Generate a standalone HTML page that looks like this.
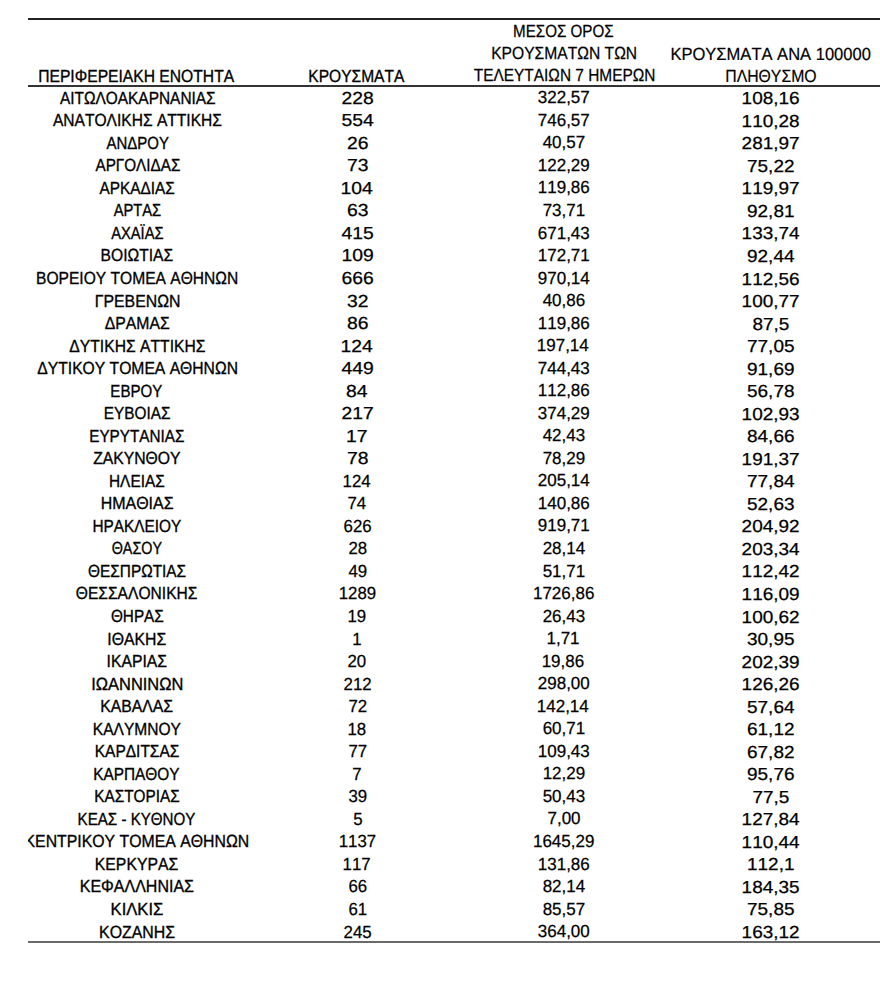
<!DOCTYPE html>
<html><head><meta charset="utf-8"><title>table</title><style>
html,body{margin:0;padding:0;background:#fff;}
body{font-family:"Liberation Sans",sans-serif;color:#000;text-rendering:geometricPrecision;font-kerning:none;}
.t{position:absolute;white-space:nowrap;line-height:22px;height:22px;width:0;display:flex;justify-content:center;}
.t span{display:block;flex:none;transform-origin:50% 50%;}
.b{font-size:17.6px} .b span{-webkit-text-stroke:0.35px #000}
.c{font-size:17.5px} .c span{-webkit-text-stroke:0.25px #000}
.d{font-size:17.4px} .d span{-webkit-text-stroke:0.25px #000}
.e{font-size:17.6px} .e span{-webkit-text-stroke:0.2px #000}
.f{font-size:17.6px} .f span{-webkit-text-stroke:0.25px #000}


body{width:880px;height:997px;position:relative;overflow:hidden;}
.clip{position:absolute;left:28px;top:0;width:852px;height:997px;overflow:hidden;}
.ln{position:absolute;left:0;width:852px;}
</style></head>
<body><div class="clip">
<div class="ln" style="top:18.1px;height:2.2px;background:#222"></div>
<div class="ln" style="top:84.7px;height:1.9px;background:#333"></div>
<div class="ln" style="top:940.7px;height:2.2px;background:#6a6a6a"></div>
<div class="t b" style="left:108.57px;top:65px"><span style="transform:scaleX(0.8894)">ΠΕΡΙΦΕΡΕΙΑΚΗ ΕΝΟΤΗΤΑ</span></div>
<div class="t b" style="left:328.70px;top:65px"><span style="transform:scaleX(0.8837)">ΚΡΟΥΣΜΑΤΑ</span></div>
<div class="t f" style="left:535.46px;top:20px"><span style="transform:scaleX(0.8627)">ΜΕΣΟΣ ΟΡΟΣ</span></div>
<div class="t f" style="left:535.71px;top:42px"><span style="transform:scaleX(0.8887)">ΚΡΟΥΣΜΑΤΩΝ ΤΩΝ</span></div>
<div class="t f" style="left:536.11px;top:64px"><span style="transform:scaleX(0.8773)">ΤΕΛΕΥΤΑΙΩΝ 7 ΗΜΕΡΩΝ</span></div>
<div class="t e" style="left:742.58px;top:43px"><span style="transform:scaleX(0.9397)">ΚΡΟΥΣΜΑΤΑ ΑΝΑ 100000</span></div>
<div class="t e" style="left:742.70px;top:65px"><span style="transform:scaleX(0.8972)">ΠΛΗΘΥΣΜΟ</span></div>
<div class="t b" style="left:109.55px;top:87px"><span style="transform:scaleX(0.8773)">ΑΙΤΩΛΟΑΚΑΡΝΑΝΙΑΣ</span></div>
<div class="t d" style="left:329.31px;top:87px"><span style="transform:scaleX(1.1109)">228</span></div>
<div class="t c" style="left:535.84px;top:86px"><span style="transform:scaleX(0.9703)">322,57</span></div>
<div class="t d" style="left:742.60px;top:87px"><span style="transform:scaleX(1.0906)">108,16</span></div>
<div class="t b" style="left:109.59px;top:109px"><span style="transform:scaleX(0.8858)">ΑΝΑΤΟΛΙΚΗΣ ΑΤΤΙΚΗΣ</span></div>
<div class="t d" style="left:329.31px;top:109px"><span style="transform:scaleX(1.1109)">554</span></div>
<div class="t c" style="left:535.72px;top:109px"><span style="transform:scaleX(0.9703)">746,57</span></div>
<div class="t d" style="left:742.60px;top:110px"><span style="transform:scaleX(1.0906)">110,28</span></div>
<div class="t b" style="left:109.35px;top:132px"><span style="transform:scaleX(0.8503)">ΑΝΔΡΟΥ</span></div>
<div class="t d" style="left:329.21px;top:132px"><span style="transform:scaleX(1.1109)">26</span></div>
<div class="t c" style="left:535.97px;top:131px"><span style="transform:scaleX(0.9703)">40,57</span></div>
<div class="t d" style="left:742.87px;top:132px"><span style="transform:scaleX(1.0906)">281,97</span></div>
<div class="t b" style="left:109.57px;top:154px"><span style="transform:scaleX(0.8667)">ΑΡΓΟΛΙΔΑΣ</span></div>
<div class="t d" style="left:329.21px;top:154px"><span style="transform:scaleX(1.1109)">73</span></div>
<div class="t c" style="left:535.47px;top:154px"><span style="transform:scaleX(0.9703)">122,29</span></div>
<div class="t d" style="left:742.92px;top:155px"><span style="transform:scaleX(1.0906)">75,22</span></div>
<div class="t b" style="left:109.51px;top:177px"><span style="transform:scaleX(0.8721)">ΑΡΚΑΔΙΑΣ</span></div>
<div class="t d" style="left:328.89px;top:177px"><span style="transform:scaleX(1.1109)">104</span></div>
<div class="t c" style="left:535.35px;top:176px"><span style="transform:scaleX(0.9703)">119,86</span></div>
<div class="t d" style="left:742.60px;top:177px"><span style="transform:scaleX(1.0906)">119,97</span></div>
<div class="t b" style="left:109.55px;top:199px"><span style="transform:scaleX(0.8363)">ΑΡΤΑΣ</span></div>
<div class="t d" style="left:329.21px;top:199px"><span style="transform:scaleX(1.1109)">63</span></div>
<div class="t c" style="left:535.72px;top:199px"><span style="transform:scaleX(0.9703)">73,71</span></div>
<div class="t d" style="left:742.92px;top:200px"><span style="transform:scaleX(1.0906)">92,81</span></div>
<div class="t b" style="left:109.50px;top:222px"><span style="transform:scaleX(0.8360)">ΑΧΑΪΑΣ</span></div>
<div class="t d" style="left:329.59px;top:222px"><span style="transform:scaleX(1.1109)">415</span></div>
<div class="t c" style="left:535.59px;top:222px"><span style="transform:scaleX(0.9703)">671,43</span></div>
<div class="t d" style="left:742.47px;top:222px"><span style="transform:scaleX(1.0906)">133,74</span></div>
<div class="t b" style="left:108.85px;top:244px"><span style="transform:scaleX(0.8875)">ΒΟΙΩΤΙΑΣ</span></div>
<div class="t d" style="left:329.03px;top:244px"><span style="transform:scaleX(1.1109)">109</span></div>
<div class="t c" style="left:535.47px;top:244px"><span style="transform:scaleX(0.9703)">172,71</span></div>
<div class="t d" style="left:742.64px;top:245px"><span style="transform:scaleX(1.0906)">92,44</span></div>
<div class="t b" style="left:109.19px;top:267px"><span style="transform:scaleX(0.8859)">ΒΟΡΕΙΟΥ ΤΟΜΕΑ ΑΘΗΝΩΝ</span></div>
<div class="t d" style="left:329.31px;top:267px"><span style="transform:scaleX(1.1109)">666</span></div>
<div class="t c" style="left:535.47px;top:267px"><span style="transform:scaleX(0.9703)">970,14</span></div>
<div class="t d" style="left:742.60px;top:268px"><span style="transform:scaleX(1.0906)">112,56</span></div>
<div class="t b" style="left:109.18px;top:290px"><span style="transform:scaleX(0.9003)">ΓΡΕΒΕΝΩΝ</span></div>
<div class="t d" style="left:329.49px;top:290px"><span style="transform:scaleX(1.1109)">32</span></div>
<div class="t c" style="left:535.84px;top:289px"><span style="transform:scaleX(0.9703)">40,86</span></div>
<div class="t d" style="left:742.60px;top:290px"><span style="transform:scaleX(1.0906)">100,77</span></div>
<div class="t b" style="left:109.31px;top:312px"><span style="transform:scaleX(0.8955)">ΔΡΑΜΑΣ</span></div>
<div class="t d" style="left:329.21px;top:312px"><span style="transform:scaleX(1.1109)">86</span></div>
<div class="t c" style="left:535.35px;top:312px"><span style="transform:scaleX(0.9703)">119,86</span></div>
<div class="t d" style="left:742.82px;top:313px"><span style="transform:scaleX(1.0906)">87,5</span></div>
<div class="t b" style="left:109.32px;top:335px"><span style="transform:scaleX(0.8914)">ΔΥΤΙΚΗΣ ΑΤΤΙΚΗΣ</span></div>
<div class="t d" style="left:328.89px;top:335px"><span style="transform:scaleX(1.1109)">124</span></div>
<div class="t c" style="left:535.23px;top:334px"><span style="transform:scaleX(0.9703)">197,14</span></div>
<div class="t d" style="left:742.78px;top:335px"><span style="transform:scaleX(1.0906)">77,05</span></div>
<div class="t b" style="left:109.67px;top:357px"><span style="transform:scaleX(0.8905)">ΔΥΤΙΚΟΥ ΤΟΜΕΑ ΑΘΗΝΩΝ</span></div>
<div class="t d" style="left:329.59px;top:357px"><span style="transform:scaleX(1.1109)">449</span></div>
<div class="t c" style="left:535.59px;top:357px"><span style="transform:scaleX(0.9703)">744,43</span></div>
<div class="t d" style="left:742.92px;top:358px"><span style="transform:scaleX(1.0906)">91,69</span></div>
<div class="t b" style="left:108.72px;top:380px"><span style="transform:scaleX(0.8565)">ΕΒΡΟΥ</span></div>
<div class="t d" style="left:329.07px;top:380px"><span style="transform:scaleX(1.1109)">84</span></div>
<div class="t c" style="left:535.35px;top:379px"><span style="transform:scaleX(0.9703)">112,86</span></div>
<div class="t d" style="left:742.92px;top:380px"><span style="transform:scaleX(1.0906)">56,78</span></div>
<div class="t b" style="left:108.93px;top:402px"><span style="transform:scaleX(0.8725)">ΕΥΒΟΙΑΣ</span></div>
<div class="t d" style="left:329.31px;top:402px"><span style="transform:scaleX(1.1109)">217</span></div>
<div class="t c" style="left:535.84px;top:402px"><span style="transform:scaleX(0.9703)">374,29</span></div>
<div class="t d" style="left:742.60px;top:403px"><span style="transform:scaleX(1.0906)">102,93</span></div>
<div class="t b" style="left:108.94px;top:425px"><span style="transform:scaleX(0.8677)">ΕΥΡΥΤΑΝΙΑΣ</span></div>
<div class="t d" style="left:329.07px;top:425px"><span style="transform:scaleX(1.1109)">17</span></div>
<div class="t c" style="left:535.84px;top:424px"><span style="transform:scaleX(0.9703)">42,43</span></div>
<div class="t d" style="left:742.78px;top:425px"><span style="transform:scaleX(1.0906)">84,66</span></div>
<div class="t b" style="left:109.10px;top:447px"><span style="transform:scaleX(0.8943)">ΖΑΚΥΝΘΟΥ</span></div>
<div class="t d" style="left:329.21px;top:447px"><span style="transform:scaleX(1.1109)">78</span></div>
<div class="t c" style="left:535.72px;top:447px"><span style="transform:scaleX(0.9703)">78,29</span></div>
<div class="t d" style="left:742.60px;top:448px"><span style="transform:scaleX(1.0906)">191,37</span></div>
<div class="t b" style="left:108.85px;top:470px"><span style="transform:scaleX(0.8750)">ΗΛΕΙΑΣ</span></div>
<div class="t c" style="left:328.92px;top:470px"><span style="transform:scaleX(0.9607)">124</span></div>
<div class="t c" style="left:535.47px;top:469px"><span style="transform:scaleX(0.9703)">205,14</span></div>
<div class="t d" style="left:742.64px;top:470px"><span style="transform:scaleX(1.0906)">77,84</span></div>
<div class="t b" style="left:108.87px;top:492px"><span style="transform:scaleX(0.9076)">ΗΜΑΘΙΑΣ</span></div>
<div class="t c" style="left:329.16px;top:492px"><span style="transform:scaleX(0.9607)">74</span></div>
<div class="t c" style="left:535.35px;top:492px"><span style="transform:scaleX(0.9703)">140,86</span></div>
<div class="t d" style="left:742.92px;top:493px"><span style="transform:scaleX(1.0906)">52,63</span></div>
<div class="t b" style="left:108.75px;top:515px"><span style="transform:scaleX(0.8728)">ΗΡΑΚΛΕΙΟΥ</span></div>
<div class="t c" style="left:329.28px;top:515px"><span style="transform:scaleX(0.9607)">626</span></div>
<div class="t c" style="left:535.72px;top:514px"><span style="transform:scaleX(0.9703)">919,71</span></div>
<div class="t d" style="left:742.87px;top:515px"><span style="transform:scaleX(1.0906)">204,92</span></div>
<div class="t b" style="left:108.98px;top:537px"><span style="transform:scaleX(0.8148)">ΘΑΣΟΥ</span></div>
<div class="t c" style="left:329.28px;top:537px"><span style="transform:scaleX(0.9607)">28</span></div>
<div class="t c" style="left:535.48px;top:537px"><span style="transform:scaleX(0.9703)">28,14</span></div>
<div class="t d" style="left:742.74px;top:538px"><span style="transform:scaleX(1.0906)">203,34</span></div>
<div class="t b" style="left:109.15px;top:560px"><span style="transform:scaleX(0.8736)">ΘΕΣΠΡΩΤΙΑΣ</span></div>
<div class="t c" style="left:329.53px;top:560px"><span style="transform:scaleX(0.9607)">49</span></div>
<div class="t c" style="left:535.84px;top:560px"><span style="transform:scaleX(0.9703)">51,71</span></div>
<div class="t d" style="left:742.60px;top:560px"><span style="transform:scaleX(1.0906)">112,42</span></div>
<div class="t b" style="left:109.10px;top:582px"><span style="transform:scaleX(0.8860)">ΘΕΣΣΑΛΟΝΙΚΗΣ</span></div>
<div class="t c" style="left:329.03px;top:582px"><span style="transform:scaleX(0.9607)">1289</span></div>
<div class="t c" style="left:535.47px;top:582px"><span style="transform:scaleX(0.9703)">1726,86</span></div>
<div class="t d" style="left:742.60px;top:583px"><span style="transform:scaleX(1.0906)">116,09</span></div>
<div class="t b" style="left:109.09px;top:605px"><span style="transform:scaleX(0.8697)">ΘΗΡΑΣ</span></div>
<div class="t c" style="left:329.04px;top:605px"><span style="transform:scaleX(0.9607)">19</span></div>
<div class="t c" style="left:535.60px;top:605px"><span style="transform:scaleX(0.9703)">26,43</span></div>
<div class="t d" style="left:742.60px;top:606px"><span style="transform:scaleX(1.0906)">100,62</span></div>
<div class="t b" style="left:108.81px;top:628px"><span style="transform:scaleX(0.8976)">ΙΘΑΚΗΣ</span></div>
<div class="t c" style="left:329.05px;top:628px"><span style="transform:scaleX(0.9607)">1</span></div>
<div class="t c" style="left:535.49px;top:627px"><span style="transform:scaleX(0.9703)">1,71</span></div>
<div class="t d" style="left:742.92px;top:628px"><span style="transform:scaleX(1.0906)">30,95</span></div>
<div class="t b" style="left:108.80px;top:650px"><span style="transform:scaleX(0.8931)">ΙΚΑΡΙΑΣ</span></div>
<div class="t c" style="left:329.16px;top:650px"><span style="transform:scaleX(0.9607)">20</span></div>
<div class="t c" style="left:535.36px;top:650px"><span style="transform:scaleX(0.9703)">19,86</span></div>
<div class="t d" style="left:742.87px;top:651px"><span style="transform:scaleX(1.0906)">202,39</span></div>
<div class="t b" style="left:109.03px;top:673px"><span style="transform:scaleX(0.9349)">ΙΩΑΝΝΙΝΩΝ</span></div>
<div class="t c" style="left:329.28px;top:673px"><span style="transform:scaleX(0.9607)">212</span></div>
<div class="t c" style="left:535.59px;top:672px"><span style="transform:scaleX(0.9703)">298,00</span></div>
<div class="t d" style="left:742.60px;top:673px"><span style="transform:scaleX(1.0906)">126,26</span></div>
<div class="t b" style="left:108.89px;top:695px"><span style="transform:scaleX(0.8962)">ΚΑΒΑΛΑΣ</span></div>
<div class="t c" style="left:329.28px;top:695px"><span style="transform:scaleX(0.9607)">72</span></div>
<div class="t c" style="left:535.23px;top:695px"><span style="transform:scaleX(0.9703)">142,14</span></div>
<div class="t d" style="left:742.78px;top:696px"><span style="transform:scaleX(1.0906)">57,64</span></div>
<div class="t b" style="left:108.76px;top:718px"><span style="transform:scaleX(0.8830)">ΚΑΛΥΜΝΟΥ</span></div>
<div class="t c" style="left:329.04px;top:718px"><span style="transform:scaleX(0.9607)">18</span></div>
<div class="t c" style="left:535.72px;top:717px"><span style="transform:scaleX(0.9703)">60,71</span></div>
<div class="t d" style="left:742.92px;top:718px"><span style="transform:scaleX(1.0906)">61,12</span></div>
<div class="t b" style="left:108.91px;top:740px"><span style="transform:scaleX(0.8806)">ΚΑΡΔΙΤΣΑΣ</span></div>
<div class="t c" style="left:329.28px;top:740px"><span style="transform:scaleX(0.9607)">77</span></div>
<div class="t c" style="left:535.35px;top:740px"><span style="transform:scaleX(0.9703)">109,43</span></div>
<div class="t d" style="left:742.92px;top:741px"><span style="transform:scaleX(1.0906)">67,82</span></div>
<div class="t b" style="left:108.77px;top:763px"><span style="transform:scaleX(0.8740)">ΚΑΡΠΑΘΟΥ</span></div>
<div class="t c" style="left:329.29px;top:763px"><span style="transform:scaleX(0.9607)">7</span></div>
<div class="t c" style="left:535.48px;top:762px"><span style="transform:scaleX(0.9703)">12,29</span></div>
<div class="t d" style="left:742.78px;top:763px"><span style="transform:scaleX(1.0906)">95,76</span></div>
<div class="t b" style="left:108.88px;top:785px"><span style="transform:scaleX(0.8701)">ΚΑΣΤΟΡΙΑΣ</span></div>
<div class="t c" style="left:329.41px;top:785px"><span style="transform:scaleX(0.9607)">39</span></div>
<div class="t c" style="left:535.72px;top:785px"><span style="transform:scaleX(0.9703)">50,43</span></div>
<div class="t d" style="left:742.82px;top:786px"><span style="transform:scaleX(1.0906)">77,5</span></div>
<div class="t b" style="left:108.77px;top:808px"><span style="transform:scaleX(0.8598)">ΚΕΑΣ - ΚΥΘΝΟΥ</span></div>
<div class="t c" style="left:329.41px;top:808px"><span style="transform:scaleX(0.9607)">5</span></div>
<div class="t c" style="left:535.61px;top:807px"><span style="transform:scaleX(0.9703)">7,00</span></div>
<div class="t d" style="left:742.47px;top:808px"><span style="transform:scaleX(1.0906)">127,84</span></div>
<div class="t b" style="left:108.59px;top:830px"><span style="transform:scaleX(0.8995)">ΚΕΝΤΡΙΚΟΥ ΤΟΜΕΑ ΑΘΗΝΩΝ</span></div>
<div class="t c" style="left:329.03px;top:830px"><span style="transform:scaleX(0.9607)">1137</span></div>
<div class="t c" style="left:535.47px;top:830px"><span style="transform:scaleX(0.9703)">1645,29</span></div>
<div class="t d" style="left:742.47px;top:831px"><span style="transform:scaleX(1.0906)">110,44</span></div>
<div class="t b" style="left:108.88px;top:853px"><span style="transform:scaleX(0.8959)">ΚΕΡΚΥΡΑΣ</span></div>
<div class="t c" style="left:329.04px;top:853px"><span style="transform:scaleX(0.9607)">117</span></div>
<div class="t c" style="left:535.35px;top:853px"><span style="transform:scaleX(0.9703)">131,86</span></div>
<div class="t d" style="left:742.64px;top:853px"><span style="transform:scaleX(1.0906)">112,1</span></div>
<div class="t b" style="left:108.93px;top:875px"><span style="transform:scaleX(0.9091)">ΚΕΦΑΛΛΗΝΙΑΣ</span></div>
<div class="t c" style="left:329.28px;top:875px"><span style="transform:scaleX(0.9607)">66</span></div>
<div class="t c" style="left:535.48px;top:875px"><span style="transform:scaleX(0.9703)">82,14</span></div>
<div class="t d" style="left:742.60px;top:876px"><span style="transform:scaleX(1.0906)">184,35</span></div>
<div class="t b" style="left:108.90px;top:898px"><span style="transform:scaleX(0.9444)">ΚΙΛΚΙΣ</span></div>
<div class="t c" style="left:329.28px;top:898px"><span style="transform:scaleX(0.9607)">61</span></div>
<div class="t c" style="left:535.72px;top:898px"><span style="transform:scaleX(0.9703)">85,57</span></div>
<div class="t d" style="left:742.78px;top:898px"><span style="transform:scaleX(1.0906)">75,85</span></div>
<div class="t b" style="left:108.84px;top:921px"><span style="transform:scaleX(0.9030)">ΚΟΖΑΝΗΣ</span></div>
<div class="t c" style="left:329.28px;top:921px"><span style="transform:scaleX(0.9607)">245</span></div>
<div class="t c" style="left:535.72px;top:920px"><span style="transform:scaleX(0.9703)">364,00</span></div>
<div class="t d" style="left:742.60px;top:921px"><span style="transform:scaleX(1.0906)">163,12</span></div>
</div></body></html>
